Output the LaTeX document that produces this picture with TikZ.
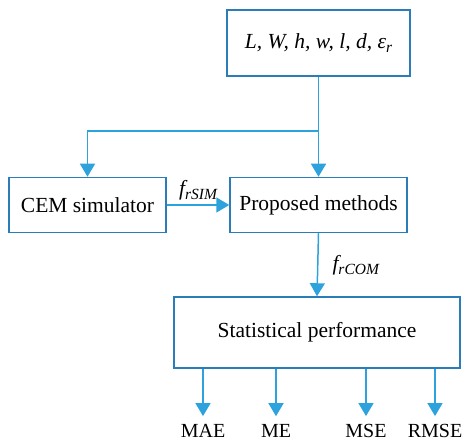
\documentclass[tikz,border=0pt]{standalone}
\usepackage{fontspec}
\setmainfont{Liberation Serif}
\usetikzlibrary{arrows.meta}
\definecolor{boxblue}{HTML}{2A7DB8}
\definecolor{lineblue}{HTML}{2DA2DC}
\newcommand{\subsz}[1]{\raisebox{-4pt}{\fontsize{15.5}{18}\selectfont #1}}
\tikzset{
  blk/.style={draw=boxblue, line width=1.5pt, minimum width=#1, inner sep=0pt},
  arr/.style={draw=lineblue, line width=1.5pt, -{Triangle[length=13pt,width=15pt]}},
  ln/.style={draw=lineblue, line width=1.5pt},
  lbl/.style={inner sep=0pt, font=\fontsize{20}{24}\selectfont},
}
\begin{document}
\begin{tikzpicture}[x=1pt,y=1pt, font=\fontsize{21.5}{26}\selectfont]
\useasboundingbox (0,0) rectangle (462,441);
\node[blk=183pt, minimum height=66pt] (top) at (318.5,398) {\itshape L, W, h, w, l, d, ε\subsz{r}};
\node[blk=157pt, minimum height=55pt] (cem) at (87.5,236) {CEM simulator};
\node[blk=177pt, minimum height=55pt] (prop) at (318.5,236) {Proposed methods};
\node[blk=286pt, minimum height=71pt] (stat) at (317,108.5) {Statistical performance};
\coordinate (j) at (318.5,310);
\draw[ln] (top.south) -- (j);
\draw[arr] (j) -- (prop.north);
\draw[arr] (j) -| (cem.north);
\draw[arr] (cem.east) -- (prop.west) node[midway, above=4pt, lbl, font=\fontsize{21.5}{26}\selectfont] (fsim) {\itshape f\subsz{rSIM}};
\draw[arr] (prop.south) -- (stat.north) node[midway, right=14pt, lbl, font=\fontsize{21.5}{26}\selectfont] (fcom) {\itshape f\subsz{rCOM}};
\node[lbl, anchor=base] (mae) at (203,3.5) {MAE};
\node[lbl, anchor=base] (me) at (276,3.5) {ME};
\node[lbl, anchor=base] (mse) at (366,3.5) {MSE};
\node[lbl, anchor=base] (rmse) at (435,3.5) {RMSE};
\foreach \n in {mae,me,mse,rmse}{
  \draw[arr] (stat.south -| \n.north) -- ([yshift=8pt]\n.north);
}
\end{tikzpicture}
\end{document}
